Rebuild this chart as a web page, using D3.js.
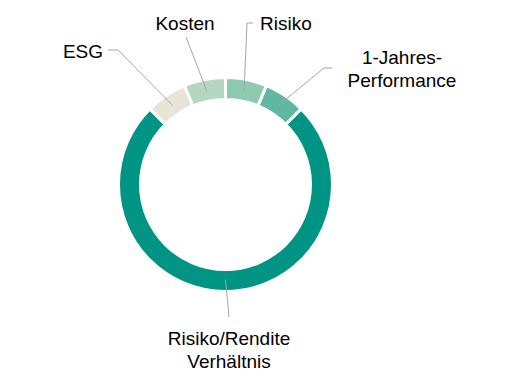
<!DOCTYPE html>
<html>
<head>
<meta charset="utf-8">
<script src="https://cdn.jsdelivr.net/npm/d3@7"></script>
<style>
  body { margin: 0; background: #fff; }
  text { font-family: Arial, "Liberation Sans", sans-serif; font-size: 19px; fill: #000; }
</style>
</head>
<body>
<svg id="chart" width="514" height="384"></svg>
<script>
// Chart data
const categories = ['Risiko/Rendite Verhältnis', 'ESG', 'Kosten', 'Risiko', '1-Jahres-Performance'];
const values = [75, 6.25, 6.25, 6.25, 6.25];
const colors = ['#009484', '#E9E4D8', '#B6D6C4', '#8ECAAF', '#5FB9A1'];

// Label text lines (one entry per category)
const labelLines = [
    ['Risiko/Rendite', 'Verhältnis'],
    ['ESG'],
    ['Kosten'],
    ['Risiko'],
    ['1-Jahres-', 'Performance']
];

// Layout of labels and leader lines (x, y of first baseline, anchor, leader elbow points)
const labelLayout = [
    { x: 229, y: 345, anchor: 'middle', leader: [[229, 317]] },
    { x: 103, y: 58, anchor: 'end', leader: [[118, 50], [108, 50]] },
    { x: 185, y: 30, anchor: 'middle', leader: [[186, 37]] },
    { x: 260, y: 30, anchor: 'start', leader: [[247, 23], [253, 23]] },
    { x: 402, y: 64, anchor: 'middle', leader: [[324, 68], [332, 68]] }
];

const svg = d3.select('#chart');
const cx = 225.5, cy = 184.5;
const outerR = 107, innerR = 85;

const g = svg.append('g').attr('transform', `translate(${cx},${cy})`);

const data = categories.map((c, i) => ({ name: c, value: values[i], color: colors[i], idx: i }));

const pie = d3.pie()
    .sort(null)
    .value(d => d.value)
    .startAngle(Math.PI / 4)
    .endAngle(Math.PI / 4 + 2 * Math.PI);

const arc = d3.arc().innerRadius(innerR).outerRadius(outerR);
const midArc = d3.arc().innerRadius(95).outerRadius(95);

const arcs = pie(data);

g.selectAll('path.slice')
    .data(arcs)
    .join('path')
    .attr('class', 'slice')
    .attr('d', arc)
    .attr('fill', d => d.data.color)
    .attr('stroke', '#fff')
    .attr('stroke-width', 3);

// Leader lines
arcs.forEach((a, i) => {
    const [mx, my] = midArc.centroid(a);
    const pts = [[cx + mx, cy + my], ...labelLayout[i].leader];
    svg.append('path')
        .attr('d', d3.line()(pts))
        .attr('fill', 'none')
        .attr('stroke', '#A6A6A6')
        .attr('stroke-width', 1);
});

// Labels
labelLines.forEach((lines, i) => {
    const lay = labelLayout[i];
    const t = svg.append('text')
        .attr('x', lay.x)
        .attr('y', lay.y)
        .attr('text-anchor', lay.anchor);
    lines.forEach((line, j) => {
        t.append('tspan')
            .attr('x', lay.x)
            .attr('dy', j === 0 ? 0 : 23)
            .text(line);
    });
});
</script>
</body>
</html>
